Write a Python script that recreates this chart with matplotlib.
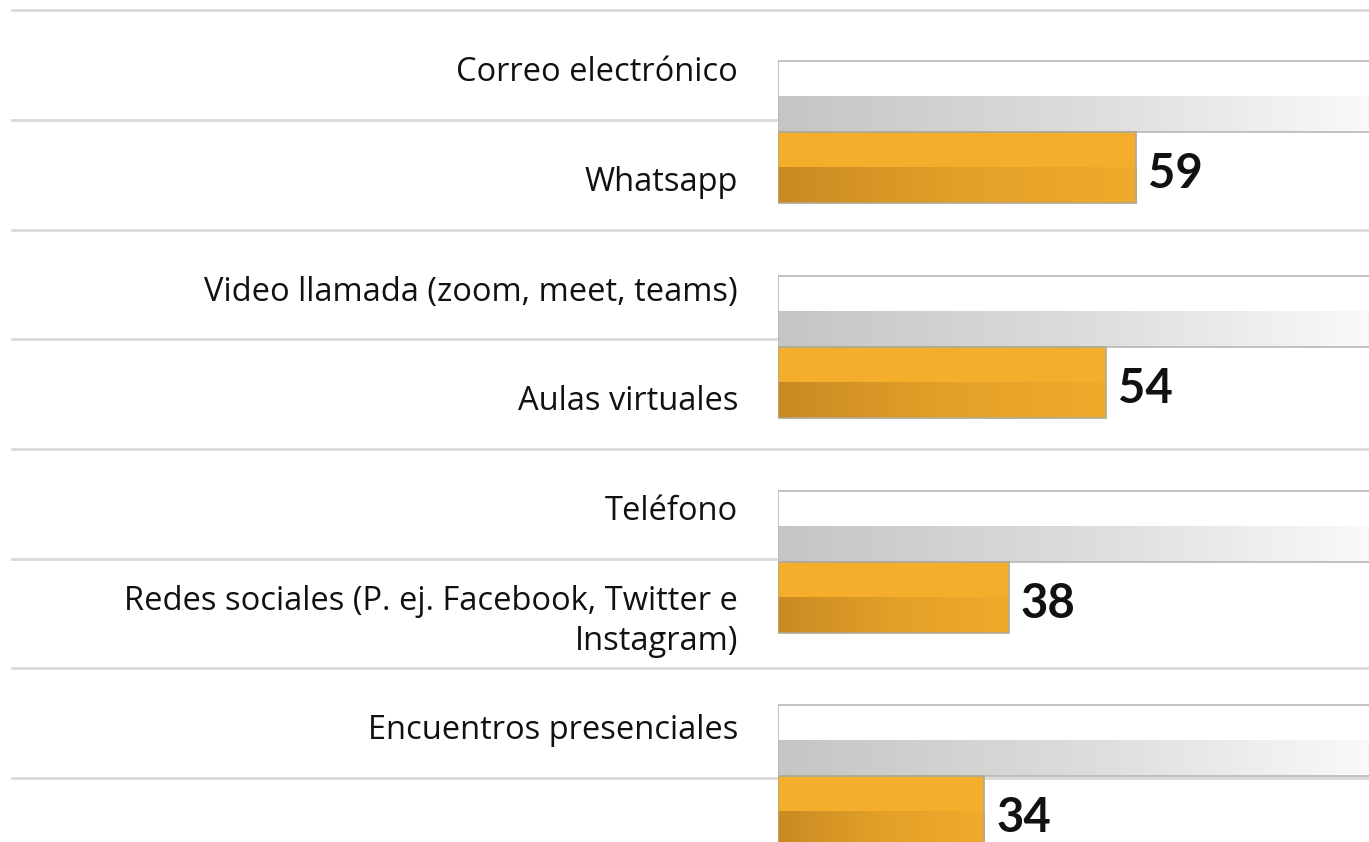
import numpy as np
import matplotlib.pyplot as plt
from matplotlib.colors import LinearSegmentedColormap

etiquetas = ["Correo electrónico", "Whatsapp", "Video llamada (zoom, meet, teams)",
             "Aulas virtuales", "Teléfono",
             "Redes sociales (P. ej. Facebook, Twitter e\nInstagram)",
             "Encuentros presenciales", ""]
valores = [59, 54, 38, 34]
fondo = [100, 100, 100, 100]

plt.rcParams['font.family'] = ['Open Sans', 'DejaVu Sans']

W, H = 1369, 842
fig = plt.figure(figsize=(W / 100, H / 100), dpi=100)

# --- columna de etiquetas y lineas separadoras ---
ax_tab = fig.add_axes([0, 0, 1, 1])
ax_tab.set_xlim(0, 1)
ax_tab.set_ylim((H - 65) / 109.7, -65 / 109.7)
ax_tab.axis('off')
for k, txt in enumerate(etiquetas):
    ax_tab.axhline(k - 0.5, xmin=12 / W, xmax=1, color='#d9d9d9', lw=2, zorder=1)
    ax_tab.text(738 / W, k + 0.07, txt, ha='right', va='center',
                fontsize=23.5, color='#111111', linespacing=1.28)

# --- barras ---
ax = fig.add_axes([778 / W, 0, 1 - 778 / W, 1])
ax.patch.set_alpha(0)
ax.axis('off')

alto = 0.331
y = np.arange(len(valores))
grad = np.linspace(0, 1, 256).reshape(1, -1)
cm_gris = LinearSegmentedColormap.from_list('gris', ['#c5c6c4', '#dcdcda', '#fbfbfb'])
cm_nar = LinearSegmentedColormap.from_list('nar', ['#c98a22', '#e3a028', '#f0ab2c'])

for i in range(len(valores)):
    # barra gris de fondo
    yc = y[i] - alto / 2
    ax.barh(yc, fondo[i], height=alto, color='white', edgecolor='none', zorder=2)
    ax.imshow(grad, cmap=cm_gris, aspect='auto', zorder=3,
              extent=(0, fondo[i], yc + alto / 2, yc))
    ax.barh(yc, fondo[i], height=alto, color='none', edgecolor='#b8b8b8', lw=1.2, zorder=4)

    # barra naranja
    yc = y[i] + alto / 2
    ax.barh(yc, valores[i], height=alto, color='#f5ae2b', edgecolor='none', zorder=2)
    ax.imshow(grad, cmap=cm_nar, aspect='auto', zorder=3,
              extent=(0, valores[i], yc + alto / 2, yc))
    ax.barh(yc, valores[i], height=alto, color='none', edgecolor='#b0a890', lw=1.2, zorder=4)
    ax.text(valores[i] + 2, yc + 0.03, str(valores[i]), ha='left', va='center',
            fontsize=34, fontweight='bold', color='#111111', zorder=5, family='Lato')

ax.set_xlim(0, (W - 778) / 6.07)
ax.set_ylim((H - 132) / 214.8, -132 / 214.8)

fig.savefig('out.png', dpi=100, facecolor='white')
